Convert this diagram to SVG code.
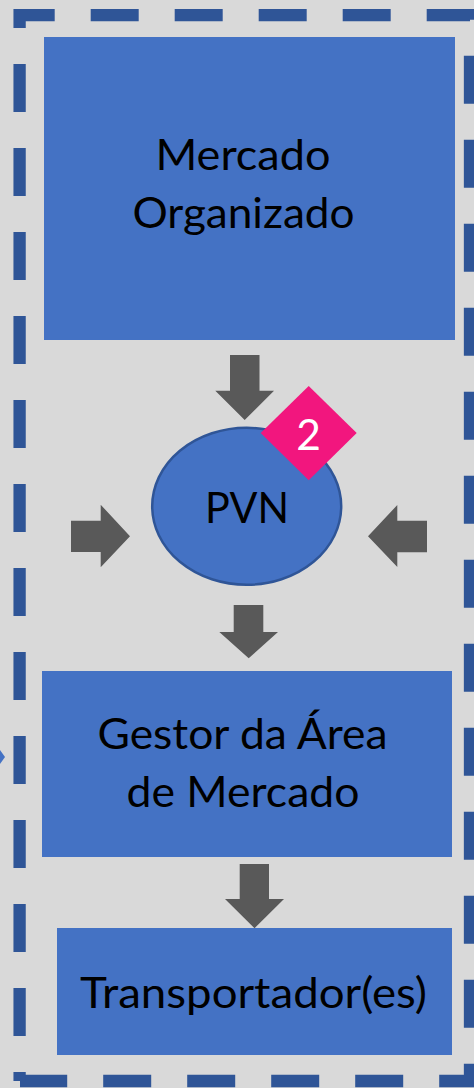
<svg xmlns="http://www.w3.org/2000/svg" width="474" height="1088" viewBox="0 0 474 1088">
<style>
.box{fill:#4472C4}
.arrow{fill:#595959}
.border{fill:none;stroke:#2F5597;stroke-width:12.3}
text{font-family:"Lato","Open Sans",sans-serif;font-size:42.500px;fill:#000;text-anchor:middle}
</style>
<rect width="474" height="1088" fill="#D9D9D9"/>
<g id="border">
<path class="border" d="M19.6 1072V15.1H470V1081H20" stroke-dasharray="48 36" stroke-dashoffset="48"/>
<path class="border" d="M19.6 1072V1081"/>
<polygon points="0,750 5,757 0,764" fill="#4472C4"/>
</g>
<g id="connectors">
<polygon class="arrow" points="230,355 259.5,355 259.5,390.700 274,390.700 244.700,420 215.300,390.700 230,390.700"/>
<polygon class="arrow" points="71,520.700 100.700,520.700 100.700,504.700 130,536.300 100.700,567.300 100.700,552 71,552"/>
<polygon class="arrow" points="427,520.700 397.300,520.700 397.300,505 368,536.300 397.300,567 397.300,552.300 427,552.300"/>
<polygon class="arrow" points="233.700,605 263.300,605 263.300,632 278,632 248.700,658.300 219.300,632 233.700,632"/>
<polygon class="arrow" points="239.700,864 269,864 269,899 284,899 254.500,928.300 225,899 239.700,899"/>
</g>
<g id="mercado"><rect class="box" x="44" y="37" width="411" height="303"/>
<text x="243" y="170" textLength="175" lengthAdjust="spacingAndGlyphs">Mercado</text><text x="243.500" y="228" textLength="222" lengthAdjust="spacingAndGlyphs">Organizado</text></g>
<g id="pvn"><ellipse cx="246.700" cy="506.300" rx="94.500" ry="78.500" fill="#4472C4" stroke="#2F5597" stroke-width="2.500"/>
<text x="247" y="523" textLength="84" lengthAdjust="spacingAndGlyphs">PVN</text></g>
<g id="badge"><polygon points="308.700,386 356.700,433 308.700,480.300 260.700,433" fill="#F2167E"/>
<text x="308.500" y="450" style="fill:#fff">2</text></g>
<g id="gestor"><rect class="box" x="42" y="671" width="410" height="186"/>
<text x="242.500" y="749" textLength="290" lengthAdjust="spacingAndGlyphs">Gestor da Área</text><text x="243" y="807" textLength="233" lengthAdjust="spacingAndGlyphs">de Mercado</text></g>
<g id="transportador"><rect class="box" x="57" y="928" width="395" height="127"/>
<text x="253.500" y="1008" textLength="347" lengthAdjust="spacingAndGlyphs">Transportador(es)</text></g>
</svg>
